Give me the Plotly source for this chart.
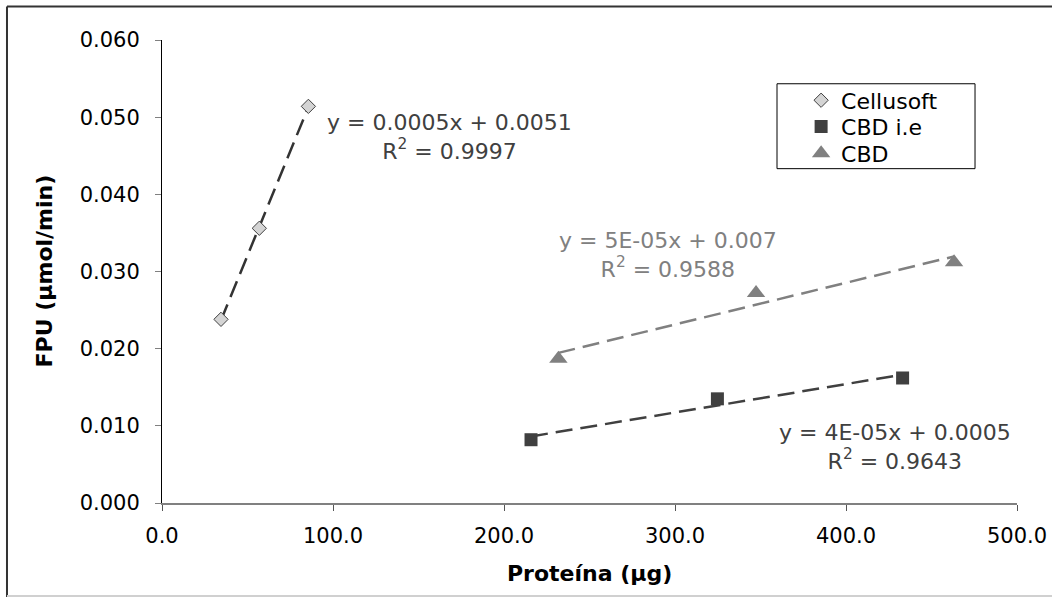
import numpy as np
import plotly.graph_objects as go

# ---- data ----
cellusoft_x = [34.5, 56.9, 85.6]
cellusoft_y = [0.0238, 0.0356, 0.0514]
cbd_ie_x = [215.8, 324.8, 433.1]
cbd_ie_y = [0.0082, 0.0135, 0.0162]
cbd_x = [231.8, 347.4, 463.2]
cbd_y = [0.0187, 0.0272, 0.0312]

series_names = ["Cellusoft", "CBD i.e", "CBD"]
eq_texts = ["y = 0.0005x + 0.0051<br>R<sup>2</sup> = 0.9997",
            "y = 4E-05x + 0.0005<br>R<sup>2</sup> = 0.9643",
            "y = 5E-05x + 0.007<br>R<sup>2</sup> = 0.9588"]

FONT = "DejaVu Sans"
DARK = "#404040"
GRAY = "#808080"

fig = go.Figure()


def trend(xs, ys):
    m, b = np.polyfit(xs, ys, 1)
    xx = np.array([min(xs), max(xs)])
    return xx, m * xx + b


styles = [
    dict(symbol="diamond", size=11, color="#d4d4d4", line=dict(color=DARK, width=1)),
    dict(symbol="square", size=13, color=DARK, line=dict(width=0)),
    dict(symbol="triangle-up", size=16, color=GRAY, line=dict(width=0)),
]
line_colors = ["#333333", DARK, GRAY]
datasets = [(cellusoft_x, cellusoft_y), (cbd_ie_x, cbd_ie_y), (cbd_x, cbd_y)]
legend_ids = ["legend", "legend2", "legend3"]

# trendlines first (below markers)
for (xs, ys), lc in zip(datasets, line_colors):
    tx, ty = trend(xs, ys)
    fig.add_trace(go.Scatter(x=tx, y=ty, mode="lines", showlegend=False,
                             line=dict(color=lc, width=2.5, dash="17px,8px"),
                             hoverinfo="skip"))

for (xs, ys), name, st, lid in zip(datasets, series_names, styles, legend_ids):
    fig.add_trace(go.Scatter(x=xs, y=ys, mode="markers", name=name,
                             marker=st, legend=lid))

# equation annotations
eq_pos = [(168.4, 0.0474, DARK), (428.4, 0.00725, DARK), (295.7, 0.0321, GRAY)]
for txt, (ax, ay, c) in zip(eq_texts, eq_pos):
    fig.add_annotation(x=ax, y=ay, xref="x", yref="y", text=txt, showarrow=False,
                       align="center", xanchor="center", yanchor="middle",
                       font=dict(family=FONT, size=22, color=c))

# axis titles as annotations
fig.add_annotation(x=0.5, y=-0.152, xref="paper", yref="paper",
                   text="<b>Proteína (μg)</b>", showarrow=False,
                   xanchor="center", yanchor="middle",
                   font=dict(family=FONT, size=22, color="black"))
fig.add_annotation(x=-0.137, y=0.502, xref="paper", yref="paper",
                   text="<b>FPU (μmol/min)</b>", showarrow=False, textangle=-90,
                   xanchor="center", yanchor="middle",
                   font=dict(family=FONT, size=22, color="black"))

# legend box and outer frame
shapes = [
    dict(type="rect", xref="paper", yref="paper", x0=0.7193, x1=0.9509, y0=0.7221, y1=0.9055,
         line=dict(color="black", width=1), fillcolor="white", layer="below"),
    dict(type="line", xref="paper", yref="paper", x0=-0.1813, x1=1.05, y0=1.0723, y1=1.0723,
         line=dict(color="#333333", width=2)),
    dict(type="line", xref="paper", yref="paper", x0=-0.1813, x1=-0.1813, y0=-0.21, y1=1.0723,
         line=dict(color="#333333", width=2)),
    dict(type="line", xref="paper", yref="paper", x0=-0.1813, x1=1.05, y0=-0.2006, y1=-0.2006,
         line=dict(color="#d0d0d0", width=2)),
]

leg_common = dict(bgcolor="rgba(0,0,0,0)", borderwidth=0, xanchor="left", yanchor="middle",
                  font=dict(family=FONT, size=22, color="black"), x=0.7475)

fig.update_layout(
    width=1052, height=597,
    margin=dict(l=162, r=35, t=40, b=94, autoexpand=False),
    paper_bgcolor="white", plot_bgcolor="white",
    font=dict(family=FONT, size=21, color="black"),
    shapes=shapes,
    legend=dict(**leg_common, y=0.8695),
    legend2=dict(**leg_common, y=0.8130),
    legend3=dict(**leg_common, y=0.7551),
    xaxis=dict(range=[0, 500], dtick=100, tick0=0, tickformat=".1f", automargin=False,
               showgrid=False, zeroline=False, showline=True, linecolor=GRAY, linewidth=2,
               ticks="outside", ticklen=6, tickcolor="#555555", tickwidth=1,
               ticklabelstandoff=7, tickfont=dict(family=FONT, size=21, color="black")),
    yaxis=dict(range=[0, 0.06], dtick=0.01, tick0=0, tickformat=".3f", automargin=False,
               showgrid=False, zeroline=False, showline=True, linecolor="black", linewidth=1,
               ticks="outside", ticklen=6, tickcolor=GRAY, tickwidth=1,
               ticklabelstandoff=11, tickfont=dict(family=FONT, size=21, color="black")),
)

fig.write_html("out.html", config={"displayModeBar": False},
               post_script="document.body.style.margin='0';document.body.style.overflow='hidden';")
